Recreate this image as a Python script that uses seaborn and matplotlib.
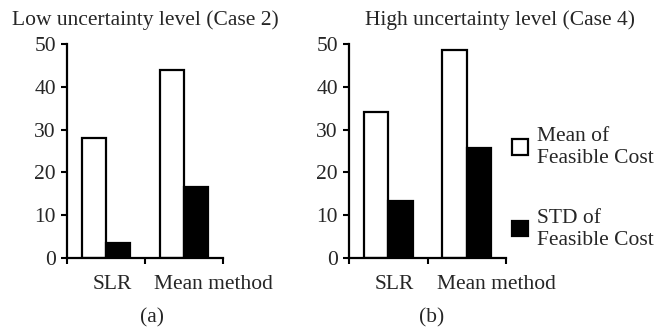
import matplotlib
matplotlib.use("Agg")
import matplotlib.pyplot as plt
import seaborn as sns
import pandas as pd
from matplotlib.patches import Patch

methods = ["SLR", "Mean method"]
series = ["Mean of\nFeasible Cost", "STD of\nFeasible Cost"]
case2_mean = [28, 44]
case2_std = [3.6, 16.6]
case4_mean = [34, 48.5]
case4_std = [13.4, 25.8]
titles = ["Low uncertainty level (Case 2)", "High uncertainty level (Case 4)"]
panel_labels = ["(a)", "(b)"]
yticks = [0, 10, 20, 30, 40, 50]

sns.set_style("white")
plt.rcParams['font.family'] = ['Liberation Serif', 'DejaVu Serif']
FS = 15.5

def make_df(mean_vals, std_vals):
    rows = []
    for m, v in zip(methods, mean_vals):
        rows.append({"method": m, "series": series[0], "value": v})
    for m, v in zip(methods, std_vals):
        rows.append({"method": m, "series": series[1], "value": v})
    return pd.DataFrame(rows)

fig = plt.figure(figsize=(6.71, 3.32), dpi=100)
ax1 = fig.add_axes([67/671, 1-258/332, 156/671, 214/332])
ax2 = fig.add_axes([349/671, 1-258/332, 157/671, 214/332])

palette = {series[0]: "white", series[1]: "black"}
datas = [make_df(case2_mean, case2_std), make_df(case4_mean, case4_std)]
label_x = [0.08, 1.38]

for i, (ax, df) in enumerate(zip([ax1, ax2], datas)):
    sns.barplot(data=df, x="method", y="value", hue="series", order=methods,
                hue_order=series, palette=palette, edgecolor="black",
                linewidth=1.6, width=0.62, gap=0, ax=ax, legend=False)
    ax.set_xlim(-0.5, 1.5)
    ax.set_ylim(0, 50)
    ax.set_yticks(yticks)
    ax.set_yticklabels([str(t) for t in yticks], fontsize=FS)
    ax.set_xticks([-0.5, 0.5, 1.5])
    ax.set_xticklabels([])
    ax.set_xlabel("")
    ax.set_ylabel("")
    for s in ["top", "right"]:
        ax.spines[s].set_visible(False)
    for s in ["left", "bottom"]:
        ax.spines[s].set_linewidth(1.6)
        ax.spines[s].set_color("black")
    ax.tick_params(axis="both", direction="out", length=4, width=1.5,
                   color="black", left=True, bottom=True, pad=4)
    for m, lx in zip(methods, label_x):
        ax.text(lx, -0.08, m, transform=ax.get_xaxis_transform(),
                fontsize=FS, ha="center", va="top")

fig.text(145/671, 1-20/332, titles[0], fontsize=FS, ha="center", va="center")
fig.text(500/671, 1-20/332, titles[1], fontsize=FS, ha="center", va="center")
fig.text(152/671, 1-318/332, panel_labels[0], fontsize=FS, ha="center", va="center")
fig.text(432/671, 1-318/332, panel_labels[1], fontsize=FS, ha="center", va="center")

handles = [Patch(facecolor="white", edgecolor="black", linewidth=1.6),
           Patch(facecolor="black", edgecolor="black", linewidth=1.6)]
fig.legend(handles, series, loc="upper left", bbox_to_anchor=(512/671, 1-127/332),
           frameon=False, fontsize=FS, handlelength=0.75, handleheight=0.75,
           handletextpad=0.4, labelspacing=1.9, borderaxespad=0, borderpad=0)

fig.savefig("out.png", dpi=100)
